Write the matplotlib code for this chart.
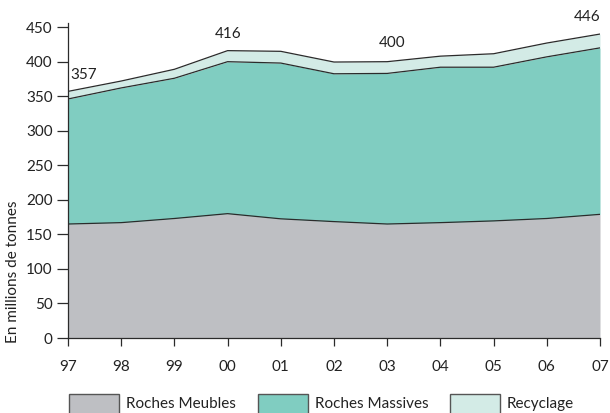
import numpy as np
import matplotlib.pyplot as plt
from matplotlib.patches import Rectangle

plt.rcParams['font.family'] = ['Lato', 'DejaVu Sans']

years = ['97', '98', '99', '00', '01', '02', '03', '04', '05', '06', '07']
meubles = [165, 167, 173, 180, 172.5, 168.5, 165, 167, 169.5, 173, 179]
massives = [181, 195, 203, 220, 225.5, 214, 218, 225, 222.5, 234, 241]
recyclage = [11, 10, 13, 16, 17, 17, 17, 16, 19.5, 20, 20]
labels_idx = [0, 3, 6, 10]
labels_txt = ['357', '416', '400', '446']

c_meub = '#bebfc3'
c_mass = '#80cdc1'
c_rec = '#d3ebe6'
edge = '#2b2b2b'

x = np.arange(len(years))
y1 = np.array(meubles)
y2 = y1 + np.array(massives)
y3 = y2 + np.array(recyclage)

fig = plt.figure(figsize=(6.1, 4.13), dpi=100)
ax = fig.add_axes([68 / 610, 1 - 338 / 413, 532 / 610, 315 / 413])

ax.fill_between(x, 0, y1, color=c_meub, lw=0)
ax.fill_between(x, y1, y2, color=c_mass, lw=0)
ax.fill_between(x, y2, y3, color=c_rec, lw=0)
for y in (y1, y2, y3):
    ax.plot(x, y, color=edge, lw=0.9)

# value labels
offs = {0: (0.05, 14, 'left'), 3: (0, 14, 'center'), 6: (0.1, 17, 'center'), 10: (-0.25, 14, 'center')}
for i, t in zip(labels_idx, labels_txt):
    dx, dy, ha = offs[i]
    ax.text(x[i] + dx, y3[i] + dy, t, ha=ha, va='bottom', fontsize=11, color='#222222')

ax.set_xlim(0, len(years) - 1)
ax.set_ylim(0, 456)
ax.set_xticks(x)
ax.set_xticklabels(years)
ax.set_yticks(np.arange(0, 451, 50))
for s in ('top', 'right'):
    ax.spines[s].set_visible(False)
for s in ('left', 'bottom'):
    ax.spines[s].set_color(edge)
    ax.spines[s].set_linewidth(0.9)
ax.tick_params(axis='y', length=8, width=0.9, color=edge, labelsize=11, pad=3, labelcolor='#222222')
ax.tick_params(axis='x', length=6, width=0.9, color=edge, labelsize=11, pad=10, labelcolor='#222222')
ax.set_ylabel('En millions de tonnes', fontsize=11, color='#222222')
ax.yaxis.set_label_coords(-0.09, 0.21)

# legend
items = [('Roches Meubles', c_meub, 69), ('Roches Massives', c_mass, 258), ('Recyclage', c_rec, 450)]
for name, col, px in items:
    fig.patches.append(Rectangle((px / 610, -0.02), 50 / 610, (413 - 394) / 413 + 0.02,
                                 transform=fig.transFigure, facecolor=col, edgecolor='#555555', lw=1))
    fig.text((px + 57) / 610, 1 - 404 / 413, name, fontsize=11, va='center', ha='left', color='#222222')

fig.savefig('out.png', dpi=100)
